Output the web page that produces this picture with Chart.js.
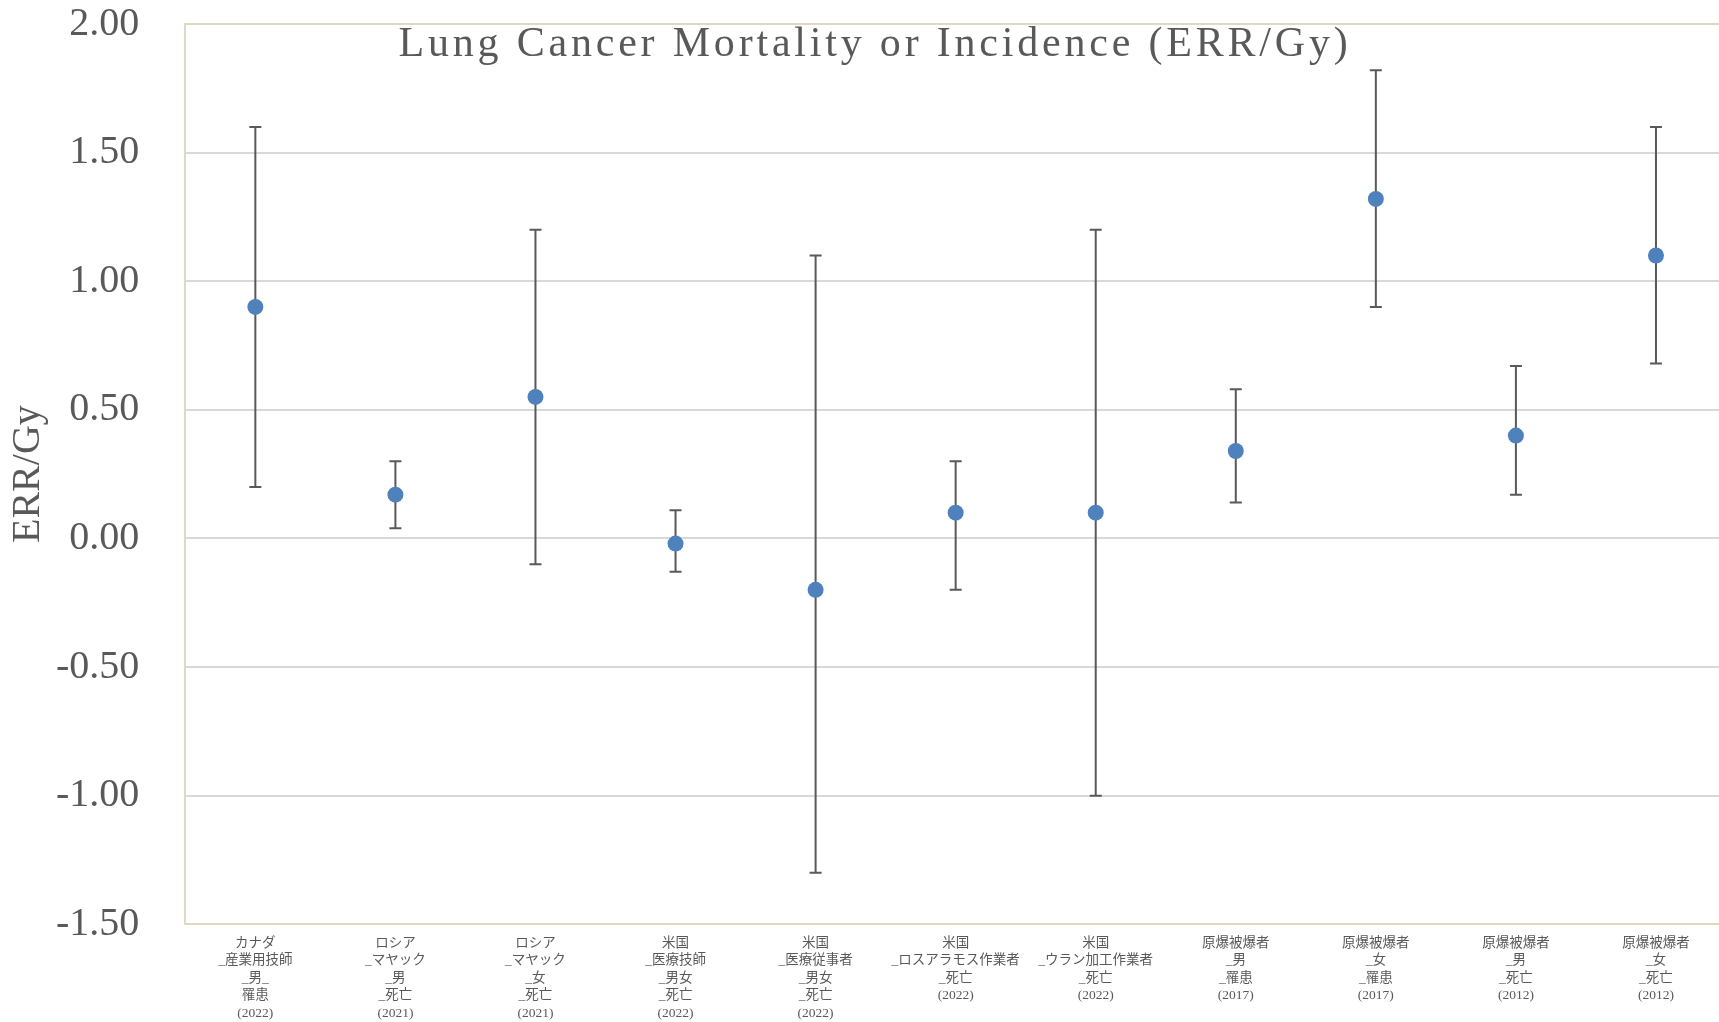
<!DOCTYPE html>
<html>
<head>
<meta charset="utf-8">
<script src="https://cdn.jsdelivr.net/npm/chart.js@4.4.1/dist/chart.umd.min.js"></script>
<style>
  html, body { margin: 0; padding: 0; overflow: hidden; background: #fff; }
  #wrap { width: 1734px; height: 1022px; }
</style>
</head>
<body>
<div id="wrap"><canvas id="errChart"></canvas></div>
<script>
const chartTitle = "Lung Cancer Mortality or Incidence (ERR/Gy)";

const cohorts = [
  ["カナダ", "_産業用技師", "_男_", "罹患", "(2022)"],
  ["ロシア", "_マヤック", "_男", "_死亡", "(2021)"],
  ["ロシア", "_マヤック", "_女", "_死亡", "(2021)"],
  ["米国", "_医療技師", "_男女", "_死亡", "(2022)"],
  ["米国", "_医療従事者", "_男女", "_死亡", "(2022)"],
  ["米国", "_ロスアラモス作業者", "_死亡", "(2022)"],
  ["米国", "_ウラン加工作業者", "_死亡", "(2022)"],
  ["原爆被爆者", "_男", "_罹患", "(2017)"],
  ["原爆被爆者", "_女", "_罹患", "(2017)"],
  ["原爆被爆者", "_男", "_死亡", "(2012)"],
  ["原爆被爆者", "_女", "_死亡", "(2012)"]
];

// point estimate and 95% CI per cohort
const errPerGy = [0.90, 0.17, 0.55, -0.02, -0.20, 0.10, 0.10, 0.34, 1.32, 0.40, 1.10];
const ciLower  = [0.20, 0.04, -0.10, -0.13, -1.30, -0.20, -1.00, 0.14, 0.90, 0.17, 0.68];
const ciUpper  = [1.60, 0.30, 1.20, 0.11, 1.10, 0.30, 1.20, 0.58, 1.82, 0.67, 1.60];

const yMin = -1.5;
const yMax = 2.0;
const yStep = 0.5;

const grey = "#595959";
const frame = "#ddd9c3";

// whiskers with caps, drawn under the points
const errorBars = {
  id: "errorBars",
  beforeDatasetsDraw(chart) {
    const { ctx, scales: { x, y } } = chart;
    ctx.save();
    ctx.strokeStyle = grey;
    ctx.lineWidth = 2;
    errPerGy.forEach((v, i) => {
      const px = x.getPixelForValue(i);
      const top = y.getPixelForValue(ciUpper[i]);
      const bot = y.getPixelForValue(ciLower[i]);
      ctx.beginPath();
      ctx.moveTo(px, top); ctx.lineTo(px, bot);
      ctx.moveTo(px - 6, top); ctx.lineTo(px + 6, top);
      ctx.moveTo(px - 6, bot); ctx.lineTo(px + 6, bot);
      ctx.stroke();
    });
    ctx.restore();
  }
};

// title sits inside the plot area
const innerTitle = {
  id: "innerTitle",
  afterDraw(chart) {
    const { ctx, chartArea } = chart;
    ctx.save();
    ctx.font = "42px 'Liberation Serif'";
    ctx.letterSpacing = "3.8px";
    ctx.fillStyle = grey;
    ctx.textAlign = "center";
    ctx.textBaseline = "alphabetic";
    ctx.fillText(chartTitle, 875, chartArea.top + 32);
    ctx.restore();
  }
};

const ctx = document.getElementById("errChart").getContext("2d");
new Chart(ctx, {
  type: "line",
  data: {
    labels: cohorts,
    datasets: [{
      data: errPerGy,
      showLine: false,
      pointRadius: 8,
      pointHoverRadius: 8,
      pointBackgroundColor: "#4f81bd",
      pointBorderColor: "#4f81bd",
      pointBorderWidth: 0
    }]
  },
  plugins: [errorBars, innerTitle],
  options: {
    responsive: true,
    maintainAspectRatio: false,
    animation: false,
    layout: { padding: { left: 0, right: 3, top: 0, bottom: 0 } },
    plugins: {
      legend: { display: false },
      tooltip: { enabled: false }
    },
    scales: {
      x: {
        offset: true,
        grid: { display: false, drawTicks: false },
        border: { color: frame, width: 2 },
        ticks: {
          autoSkip: false,
          maxRotation: 0,
          padding: 10,
          color: grey,
          font: { family: "'Liberation Serif', 'Noto Sans CJK JP'", size: 13.5, lineHeight: 1.3 }
        },
        // chart.js reserves the tick padding twice; keep it once
        afterFit: s => { s.height -= s.options.ticks.padding; }
      },
      y: {
        min: yMin,
        max: yMax,
        grid: {
          drawTicks: false,
          lineWidth: 2,
          color: c => (c.tick && (c.tick.value === yMax || c.tick.value === yMin)) ? frame : "#d9d9d9"
        },
        border: { color: frame, width: 2 },
        ticks: {
          stepSize: yStep,
          padding: 46,
          color: grey,
          font: { family: "'Liberation Serif'", size: 40 },
          callback: v => v.toFixed(2)
        },
        title: {
          display: true,
          text: "ERR/Gy",
          color: grey,
          padding: { top: 4, bottom: 4 },
          font: { family: "'Liberation Serif'", size: 40 }
        },
        // the wide gap to the labels should not push the plot down or right
        afterFit: s => {
          const p = s.options.ticks.padding;
          s.width -= p;
          s.paddingTop -= p;
          s.paddingBottom -= p;
        }
      }
    }
  }
});
</script>
</body>
</html>
